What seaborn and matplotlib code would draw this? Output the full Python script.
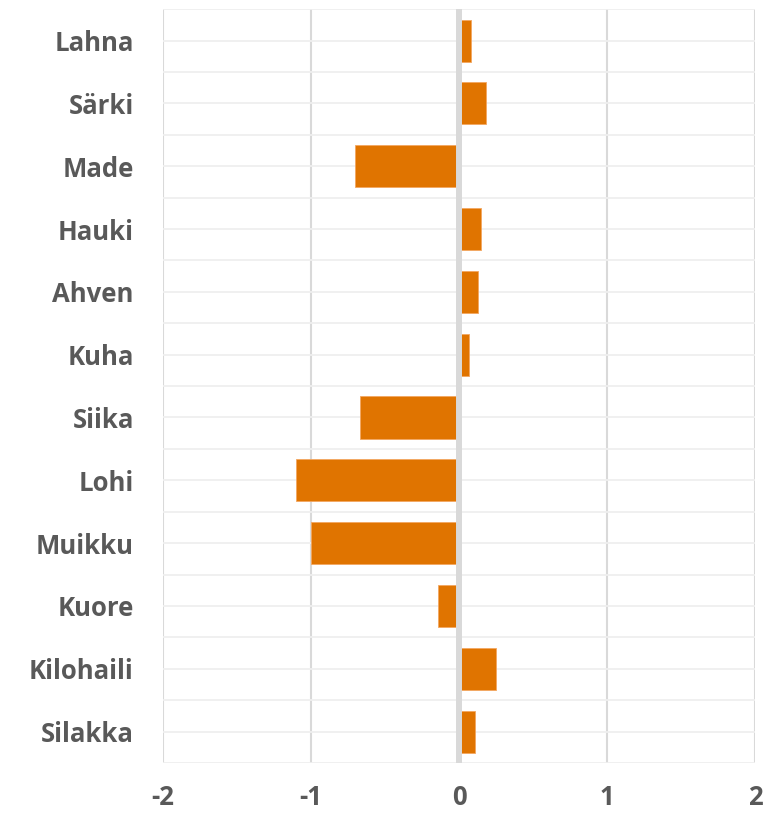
import numpy as np
import pandas as pd
import matplotlib
matplotlib.use("Agg")
import matplotlib.pyplot as plt
import seaborn as sns

# values
species = ['Lahna', 'Särki', 'Made', 'Hauki', 'Ahven', 'Kuha',
           'Siika', 'Lohi', 'Muikku', 'Kuore', 'Kilohaili', 'Silakka']
change = [0.08, 0.18, -0.70, 0.15, 0.13, 0.07,
          -0.67, -1.10, -1.00, -0.14, 0.25, 0.11]
x_ticks = [-2, -1, 0, 1, 2]

df = pd.DataFrame({'Laji': species, 'Muutos': change})

sns.set_style("white")
plt.rcParams['font.family'] = ['Open Sans', 'DejaVu Sans']

fig = plt.figure(figsize=(7.81, 8.14), dpi=100)
ax = fig.add_axes([0.2087, 0.0627, 0.758, 0.926])

sns.barplot(data=df, x='Muutos', y='Laji', order=species, orient='h',
            color='#E07400', saturation=1, width=0.67,
            edgecolor='#F3A660', linewidth=0.6, ax=ax, zorder=2)

ax.set_xlim(-2, 2)
ax.set_ylim(len(species) - 0.5, -0.5)
ax.set_xticks(x_ticks)
ax.set_xticklabels([str(t) for t in x_ticks])
ax.set_yticks(np.arange(len(species) + 1) - 0.5, minor=True)

ax.grid(axis='y', which='both', color='#efefef', linewidth=1.3)
ax.grid(axis='x', which='major', color='#d9d9d9', linewidth=1.5)
ax.set_axisbelow(True)
ax.axvline(0, color='#d9d9d9', linewidth=4.3, zorder=3)

for s in ax.spines.values():
    s.set_visible(False)

ax.tick_params(axis='both', which='both', length=0)
ax.tick_params(axis='y', pad=21)
ax.tick_params(axis='x', pad=15)
for lab in ax.get_yticklabels() + ax.get_xticklabels():
    lab.set_fontweight('bold')
    lab.set_fontsize(18.5)
    lab.set_color('#595959')

ax.set_xlabel('')
ax.set_ylabel('')

fig.savefig('out.png', dpi=100)
